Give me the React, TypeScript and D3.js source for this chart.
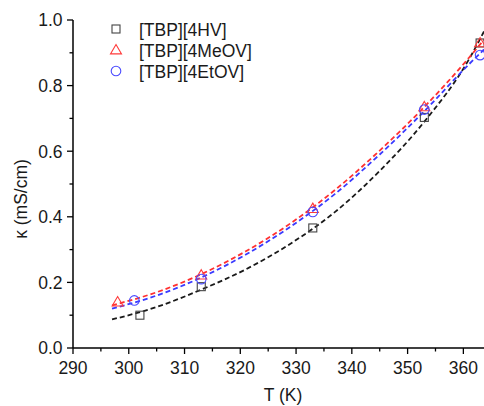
import React from "react";
import * as d3 from "d3";

const seriesNames = ["[TBP][4HV]", "[TBP][4MeOV]", "[TBP][4EtOV]"];
const colors = ["#444444", "#ff3b3b", "#4a4aff"];
const lineColors = ["#1a1a1a", "#ff3030", "#3a3aff"];

const T_HV = [302, 313, 333, 353, 363];
const K_HV = [0.1, 0.187, 0.366, 0.703, 0.93];
const T_MeOV = [298, 313, 333, 353, 363];
const K_MeOV = [0.14, 0.222, 0.425, 0.735, 0.93];
const T_EtOV = [301, 313, 333, 353, 363];
const K_EtOV = [0.145, 0.21, 0.415, 0.727, 0.893];

const fitT = [297, 305, 313, 321, 329, 337, 345, 353, 361, 363.7];
const fitHV = [0.087, 0.125, 0.178, 0.24, 0.318, 0.415, 0.54, 0.69, 0.88, 0.965];
const fitMeOV = [0.13, 0.17, 0.225, 0.295, 0.38, 0.482, 0.602, 0.735, 0.885, 0.94];
const fitEtOV = [0.12, 0.16, 0.215, 0.285, 0.37, 0.47, 0.59, 0.722, 0.865, 0.91];

const xMajor = [290, 300, 310, 320, 330, 340, 350, 360];
const xMinor = [295, 305, 315, 325, 335, 345, 355];
const yMajor = [0.0, 0.2, 0.4, 0.6, 0.8, 1.0];
const yMinor = [0.1, 0.3, 0.5, 0.7, 0.9];

export default function App() {
  const W = 484, H = 406;
  const x = d3.scaleLinear().domain([290, 363.7]).range([73, 484]);
  const y = d3.scaleLinear().domain([0, 1]).range([348, 20]);
  const font = "Liberation Sans, Arial, sans-serif";
  const fs = 17.5;

  const pts = [
    { t: T_HV, k: K_HV },
    { t: T_MeOV, k: K_MeOV },
    { t: T_EtOV, k: K_EtOV },
  ];
  const fits = [fitHV, fitMeOV, fitEtOV];
  const line = d3
    .line<[number, number]>()
    .x((d) => x(d[0]))
    .y((d) => y(d[1]))
    .curve(d3.curveMonotoneX);

  const marker = (i: number, cx: number, cy: number, key: string) => {
    if (i === 0)
      return <rect key={key} x={cx - 4} y={cy - 4} width={8} height={8} fill="none" stroke={colors[0]} strokeWidth={1.1} />;
    if (i === 1) {
      const s = 5.5;
      return (
        <path key={key} d={`M${cx},${cy - s} L${cx + s},${cy + s * 0.7} L${cx - s},${cy + s * 0.7} Z`} fill="none" stroke={colors[1]} strokeWidth={1.1} />
      );
    }
    return <circle key={key} cx={cx} cy={cy} r={4.8} fill="none" stroke={colors[2]} strokeWidth={1.1} />;
  };

  return (
    <svg width={W} height={H} style={{ position: "absolute", left: 0, top: 0 }}>
      <rect width={W} height={H} fill="#fff" />
      <defs>
        <clipPath id="plot">
          <rect x={73} y={0} width={420} height={348} />
        </clipPath>
      </defs>
      <g clipPath="url(#plot)">
        {[0, 2, 1].map((i) => (
          <path
            key={"f" + i}
            d={line(fitT.map((t, j) => [t, fits[i][j]] as [number, number])) || ""}
            fill="none"
            stroke={lineColors[i]}
            strokeWidth={1.8}
            strokeDasharray="5,3"
          />
        ))}
        {pts.map((s, i) => s.t.map((t, j) => marker(i, x(t), y(s.k[j]), `m${i}-${j}`)))}
      </g>
      <line x1={73} x2={484} y1={348} y2={348} stroke="#000" strokeWidth={1.5} />
      <line x1={73} x2={73} y1={20} y2={348} stroke="#000" strokeWidth={1.5} />
      {xMajor.map((v) => (
        <g key={"xm" + v}>
          <line x1={x(v)} x2={x(v)} y1={348} y2={354} stroke="#000" strokeWidth={1.3} />
          <text x={x(v)} y={374} textAnchor="middle" fontFamily={font} fontSize={fs} fill="#1a1a1a">
            {v}
          </text>
        </g>
      ))}
      {xMinor.map((v) => (
        <line key={"xn" + v} x1={x(v)} x2={x(v)} y1={348} y2={351.5} stroke="#000" strokeWidth={1.3} />
      ))}
      {yMajor.map((v) => (
        <g key={"ym" + v}>
          <line x1={67} x2={73} y1={y(v)} y2={y(v)} stroke="#000" strokeWidth={1.3} />
          <text x={62.5} y={y(v) + 6.3} textAnchor="end" fontFamily={font} fontSize={fs} fill="#1a1a1a">
            {v.toFixed(1)}
          </text>
        </g>
      ))}
      {yMinor.map((v) => (
        <line key={"yn" + v} x1={69.5} x2={73} y1={y(v)} y2={y(v)} stroke="#000" strokeWidth={1.3} />
      ))}
      <text x={283} y={401} textAnchor="middle" fontFamily={font} fontSize={fs} fill="#1a1a1a">
        T (K)
      </text>
      <text
        transform={`translate(27,199) rotate(-90)`}
        textAnchor="middle"
        fontFamily={font}
        fontSize={fs}
        fill="#1a1a1a"
      >
        κ (mS/cm)
      </text>
      {seriesNames.map((n, i) => (
        <g key={"lg" + i}>
          {marker(i, 116, 29 + i * 21, "lm" + i)}
          <text x={139} y={36 + i * 21} fontFamily={font} fontSize={fs} fill="#1a1a1a">
            {n}
          </text>
        </g>
      ))}
    </svg>
  );
}
